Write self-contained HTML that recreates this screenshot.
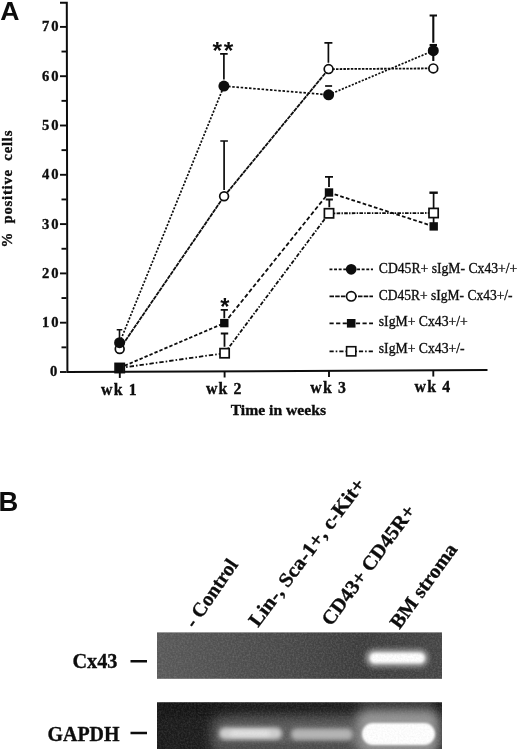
<!DOCTYPE html>
<html><head><meta charset="utf-8"><title>Figure</title>
<style>
html,body{margin:0;padding:0;background:#fff;}
svg{display:block}
text{font-family:"Liberation Serif","Times New Roman",serif;fill:#0d0d0d}
.b{font-weight:bold;stroke:#0d0d0d;stroke-width:0.35}
.r{stroke:#0d0d0d;stroke-width:0.33}
.sans{font-family:"Liberation Sans",Arial,sans-serif;font-weight:bold}
</style></head><body>
<svg width="520" height="749" viewBox="0 0 520 749">
<defs>
<filter id="bl05" x="-20%" y="-50%" width="140%" height="200%"><feGaussianBlur stdDeviation="1.6"/></filter>
<filter id="bl0" x="-20%" y="-50%" width="140%" height="200%"><feGaussianBlur stdDeviation="1.2"/></filter>
<filter id="bl1" x="-20%" y="-50%" width="140%" height="200%"><feGaussianBlur stdDeviation="2.2"/></filter>
<filter id="bl2" x="-20%" y="-50%" width="140%" height="200%"><feGaussianBlur stdDeviation="3.2"/></filter>
<filter id="bl3" x="-30%" y="-60%" width="160%" height="220%"><feGaussianBlur stdDeviation="6"/></filter>
<filter id="noise" x="0" y="0" width="100%" height="100%"><feTurbulence type="fractalNoise" baseFrequency="0.55" numOctaves="2" seed="3" result="n"/><feColorMatrix type="matrix" values="0 0 0 0 0.5  0 0 0 0 0.5  0 0 0 0 0.5  1.6 0 0 0 -0.55"/></filter>
<linearGradient id="gg1" x1="0" x2="1" y1="0" y2="0"><stop offset="0" stop-color="#585858"/><stop offset="0.45" stop-color="#484848"/><stop offset="0.72" stop-color="#3b3b3b"/><stop offset="1" stop-color="#444"/></linearGradient>
<linearGradient id="gg2" x1="0" x2="1" y1="0" y2="0"><stop offset="0" stop-color="#1a1a1a"/><stop offset="0.17" stop-color="#1c1c1c"/><stop offset="0.3" stop-color="#2b2b2b"/><stop offset="0.68" stop-color="#303030"/><stop offset="0.74" stop-color="#4e4e4e"/><stop offset="0.95" stop-color="#505050"/><stop offset="0.985" stop-color="#222"/><stop offset="1" stop-color="#222"/></linearGradient>
<clipPath id="g1"><rect x="157" y="632.4" width="285" height="46.4"/></clipPath>
<clipPath id="g2"><rect x="157" y="702.3" width="285" height="47"/></clipPath>
</defs>
<rect width="520" height="749" fill="#fff"/>

<text class="sans" x="0.2" y="19.5" font-size="26.6">A</text>
<text class="sans" x="-1.4" y="511.1" font-size="27.4">B</text>
<g stroke="#0d0d0d" stroke-width="1.9" fill="none">
<path d="M60,2.7H66.8L67.4,372L487.5,370.1" stroke-width="2" stroke-linejoin="miter"/>
<path d="M60,372.0H66.5"/>
<path d="M60,322.7H66.5"/>
<path d="M60,273.4H66.5"/>
<path d="M60,224.1H66.5"/>
<path d="M60,174.8H66.5"/>
<path d="M60,125.5H66.5"/>
<path d="M60,76.2H66.5"/>
<path d="M60,26.9H66.5"/>
<path d="M61.5,347.35H66.5"/>
<path d="M61.5,298.05H66.5"/>
<path d="M61.5,248.75H66.5"/>
<path d="M61.5,199.45H66.5"/>
<path d="M61.5,150.15H66.5"/>
<path d="M61.5,100.85H66.5"/>
<path d="M61.5,51.55H66.5"/>
<path d="M119.8,371.76V377.96"/>
<path d="M224.6,371.29V377.49"/>
<path d="M329,370.82V377.02"/>
<path d="M433.3,370.35V376.55"/>
</g>
<text class="b" x="50" y="376.40" font-size="14.6">0</text>
<text class="b" x="42" y="327.10" font-size="14.6" letter-spacing="2">10</text>
<text class="b" x="42" y="277.80" font-size="14.6" letter-spacing="2">20</text>
<text class="b" x="42" y="228.50" font-size="14.6" letter-spacing="2">30</text>
<text class="b" x="42" y="179.20" font-size="14.6" letter-spacing="2">40</text>
<text class="b" x="42" y="129.90" font-size="14.6" letter-spacing="2">50</text>
<text class="b" x="42" y="80.60" font-size="14.6" letter-spacing="2">60</text>
<text class="b" x="42" y="31.30" font-size="14.6" letter-spacing="2">70</text>
<text class="b" x="101.1" y="394.8" font-size="15.8" textLength="35.6" lengthAdjust="spacing">wk 1</text>
<text class="b" x="205.9" y="393.8" font-size="15.8" textLength="35.6" lengthAdjust="spacing">wk 2</text>
<text class="b" x="310.3" y="393" font-size="15.8" textLength="35.6" lengthAdjust="spacing">wk 3</text>
<text class="b" x="414.6" y="392.3" font-size="15.8" textLength="35.6" lengthAdjust="spacing">wk 4</text>
<text class="b" x="230.7" y="415" font-size="15.5" textLength="95.3" lengthAdjust="spacingAndGlyphs">Time in weeks</text>
<text class="b" transform="translate(12.2,247.6) rotate(-90)" font-size="14.8" letter-spacing="0.75" word-spacing="4">% positive cells</text>
<path d="M119.6,342.7L223.9,86.1" fill="none" stroke="#0d0d0d" stroke-width="1.7" stroke-dasharray="2.1,1.5"/>
<path d="M223.9,86.1L328.6,94.8" fill="none" stroke="#0d0d0d" stroke-width="1.7" stroke-dasharray="2.5,1.7"/>
<path d="M328.6,94.8L433.3,50.7" fill="none" stroke="#0d0d0d" stroke-width="1.7" stroke-dasharray="2.1,1.5"/>
<path d="M119.7,349L224.1,196.3" fill="none" stroke="#0d0d0d" stroke-width="1.8" stroke-dasharray="4.3,0.7"/>
<path d="M224.1,196.3L328.6,69.1" fill="none" stroke="#0d0d0d" stroke-width="1.8" stroke-dasharray="4.3,0.7"/>
<path d="M328.6,69.1L433.3,68.4" fill="none" stroke="#0d0d0d" stroke-width="1.8" stroke-dasharray="2.5,1.2"/>
<path d="M119.7,367.8L224.3,323.1" fill="none" stroke="#0d0d0d" stroke-width="1.8" stroke-dasharray="3.4,2"/>
<path d="M224.3,323.1L329,192.5" fill="none" stroke="#0d0d0d" stroke-width="1.8" stroke-dasharray="4.2,2.4"/>
<path d="M329,192.5L433.7,226.4" fill="none" stroke="#0d0d0d" stroke-width="1.8" stroke-dasharray="3.7,2.2"/>
<path d="M119.7,368L224.6,353.2" fill="none" stroke="#0d0d0d" stroke-width="1.8" stroke-dasharray="4.4,2,1.6,2"/>
<path d="M224.6,353.2L329,213.3" fill="none" stroke="#0d0d0d" stroke-width="1.8" stroke-dasharray="3.9,1.6,1.5,1.6"/>
<path d="M329,213.3L433.6,213" fill="none" stroke="#0d0d0d" stroke-width="1.8" stroke-dasharray="3.6,1.3,1.4,1.3"/>
<path d="M119.5,338.5V329.8M116.7,329.8H122.3" fill="none" stroke="#0d0d0d" stroke-width="1.6"/>
<path d="M223.9,79.6V53.8M220.1,53.8H227.70000000000002" fill="none" stroke="#0d0d0d" stroke-width="1.7"/>
<path d="M325.1,86H332.1" fill="none" stroke="#0d0d0d" stroke-width="1.7"/>
<path d="M433.3,42.7V15.5M429.6,15.5H437.0" fill="none" stroke="#0d0d0d" stroke-width="2.1"/>
<path d="M429.6,45H437.0" fill="none" stroke="#0d0d0d" stroke-width="2.1"/>
<path d="M433.3,56V61" stroke="#0d0d0d" stroke-width="2.1"/>
<path d="M224.1,189.9V141M220.29999999999998,141H227.9" fill="none" stroke="#0d0d0d" stroke-width="1.7"/>
<path d="M328.4,62.699999999999996V42.9M324.4,42.9H332.4" fill="none" stroke="#0d0d0d" stroke-width="1.7"/>
<path d="M224.3,318.3V309.9M220.70000000000002,309.9H227.9" fill="none" stroke="#0d0d0d" stroke-width="1.8"/>
<path d="M329,187.0V176.8M325,176.8H333" fill="none" stroke="#0d0d0d" stroke-width="1.8"/>
<path d="M224.5,346.8V333.5M220.8,333.5H228.2" fill="none" stroke="#0d0d0d" stroke-width="1.8"/>
<path d="M329.3,207.3V199.5M325.7,199.5H332.90000000000003" fill="none" stroke="#0d0d0d" stroke-width="1.8"/>
<path d="M429.40000000000003,192.7H437.8" fill="none" stroke="#0d0d0d" stroke-width="2.4"/>
<path d="M433.6,193V208M433.6,217V223" stroke="#0d0d0d" stroke-width="1.7"/>
<circle cx="119.7" cy="349" r="4.4" fill="#fff" stroke="#0d0d0d" stroke-width="1.7"/>
<circle cx="224.1" cy="196.3" r="4.4" fill="#fff" stroke="#0d0d0d" stroke-width="1.7"/>
<circle cx="328.6" cy="69.1" r="4.4" fill="#fff" stroke="#0d0d0d" stroke-width="1.7"/>
<circle cx="433.3" cy="68.4" r="4.4" fill="#fff" stroke="#0d0d0d" stroke-width="1.7"/>
<circle cx="119.6" cy="342.7" r="5.5" fill="#0d0d0d"/>
<circle cx="223.9" cy="86.1" r="5.5" fill="#0d0d0d"/>
<circle cx="328.6" cy="94.8" r="5.5" fill="#0d0d0d"/>
<circle cx="433.3" cy="50.7" r="5.5" fill="#0d0d0d"/>
<rect x="115.10000000000001" y="363.4" width="9.2" height="9.2" fill="#fff" stroke="#0d0d0d" stroke-width="1.7"/>
<rect x="220.0" y="348.59999999999997" width="9.2" height="9.2" fill="#fff" stroke="#0d0d0d" stroke-width="1.7"/>
<rect x="324.4" y="208.70000000000002" width="9.2" height="9.2" fill="#fff" stroke="#0d0d0d" stroke-width="1.7"/>
<rect x="429.0" y="208.4" width="9.2" height="9.2" fill="#fff" stroke="#0d0d0d" stroke-width="1.7"/>
<rect x="115.5" y="363.6" width="8.4" height="8.4" fill="#0d0d0d"/>
<rect x="220.10000000000002" y="318.90000000000003" width="8.4" height="8.4" fill="#0d0d0d"/>
<rect x="324.8" y="188.3" width="8.4" height="8.4" fill="#0d0d0d"/>
<rect x="429.5" y="222.20000000000002" width="8.4" height="8.4" fill="#0d0d0d"/>
<text class="sans" x="212.5" y="59" font-size="24.5" letter-spacing="1.6">**</text>
<text class="sans" x="220.3" y="315.3" font-size="23.6">*</text>
<path d="M329.5,269.3H373" stroke="#0d0d0d" stroke-width="1.7" stroke-dasharray="2.9,1.7" fill="none"/>
<circle cx="351.2" cy="269.3" r="5.4" fill="#0d0d0d"/>
<text class="r" x="378.8" y="272.5" font-size="13.7" textLength="138.5" lengthAdjust="spacingAndGlyphs">CD45R+ sIgM- Cx43+/+</text>
<path d="M329.5,296.3H373" stroke="#0d0d0d" stroke-width="1.7" stroke-dasharray="4.5,1.2" fill="none"/>
<circle cx="351.2" cy="296.3" r="4.7" fill="#fff" stroke="#0d0d0d" stroke-width="1.7"/>
<text class="r" x="378.8" y="299.5" font-size="13.7" textLength="133.8" lengthAdjust="spacingAndGlyphs">CD45R+ sIgM- Cx43+/-</text>
<path d="M329.5,323.3H373" stroke="#0d0d0d" stroke-width="1.7" stroke-dasharray="4.2,2.4" fill="none"/>
<rect x="346.9" y="319.0" width="8.6" height="8.6" fill="#0d0d0d"/>
<text class="r" x="378.8" y="326.3" font-size="13.7">sIgM+ Cx43+/+</text>
<path d="M329.5,351.3H373" stroke="#0d0d0d" stroke-width="1.7" stroke-dasharray="4.2,2,1.6,2" fill="none"/>
<rect x="346.6" y="346.7" width="9.2" height="9.2" fill="#fff" stroke="#0d0d0d" stroke-width="1.6"/>
<text class="r" x="378.8" y="352.6" font-size="13.7">sIgM+ Cx43+/-</text>
<rect x="157" y="632.4" width="285" height="46.4" fill="url(#gg1)"/>
<g clip-path="url(#g1)"><rect x="365" y="648.5" width="64" height="19" rx="9" fill="#8c8c8c" filter="url(#bl1)"/><rect x="369.5" y="652.5" width="55.5" height="11" rx="5.5" fill="#fff" filter="url(#bl05)"/></g>
<rect x="157" y="632.4" width="285" height="46.4" filter="url(#noise)" opacity="0.25"/>
<rect x="157" y="702.3" width="285" height="47" fill="url(#gg2)"/>
<g clip-path="url(#g2)">
<rect x="157" y="700" width="285" height="14" fill="#111" opacity="0.55" filter="url(#bl2)"/>
<rect x="212" y="718" width="146" height="34" rx="10" fill="#5c5c5c" filter="url(#bl3)"/>
<rect x="219" y="727.5" width="63" height="12" rx="6" fill="#cfcfcf" filter="url(#bl1)"/>
<rect x="230" y="731" width="40" height="5" rx="2.5" fill="#e6e6e6" filter="url(#bl1)"/>
<rect x="291" y="728.5" width="62" height="11.5" rx="5.5" fill="#b4b4b4" filter="url(#bl1)"/>
<rect x="215" y="744" width="140" height="5" fill="#4a4a4a" filter="url(#bl1)"/>
<rect x="356" y="710" width="84" height="44" rx="12" fill="#969696" filter="url(#bl3)"/>
<rect x="362" y="723" width="73" height="22" rx="11" fill="#fff" filter="url(#bl0)"/>
</g>
<rect x="157" y="702.3" width="285" height="47" filter="url(#noise)" opacity="0.18"/>
<text class="b" x="72.5" y="667.5" font-size="21" textLength="45" lengthAdjust="spacingAndGlyphs">Cx43</text>
<text class="b" x="47.5" y="740.5" font-size="21" textLength="72" lengthAdjust="spacingAndGlyphs">GAPDH</text>
<path d="M130.5,661.3H147M130.5,733H147" stroke="#0d0d0d" stroke-width="2.6"/>
<text class="b" transform="translate(194.5,629) rotate(-55.5)" font-size="20" textLength="78.0" lengthAdjust="spacingAndGlyphs">- Control</text>
<text class="b" transform="translate(258,628) rotate(-53.0)" font-size="20" textLength="179.6" lengthAdjust="spacingAndGlyphs">Lin-, Sca-1+, c-Kit+</text>
<text class="b" transform="translate(331,627) rotate(-53.7)" font-size="20" textLength="143.8" lengthAdjust="spacingAndGlyphs">CD43+ CD45R+</text>
<text class="b" transform="translate(399.5,630) rotate(-54)" font-size="20" textLength="99.7" lengthAdjust="spacingAndGlyphs">BM stroma</text>
</svg></body></html>
